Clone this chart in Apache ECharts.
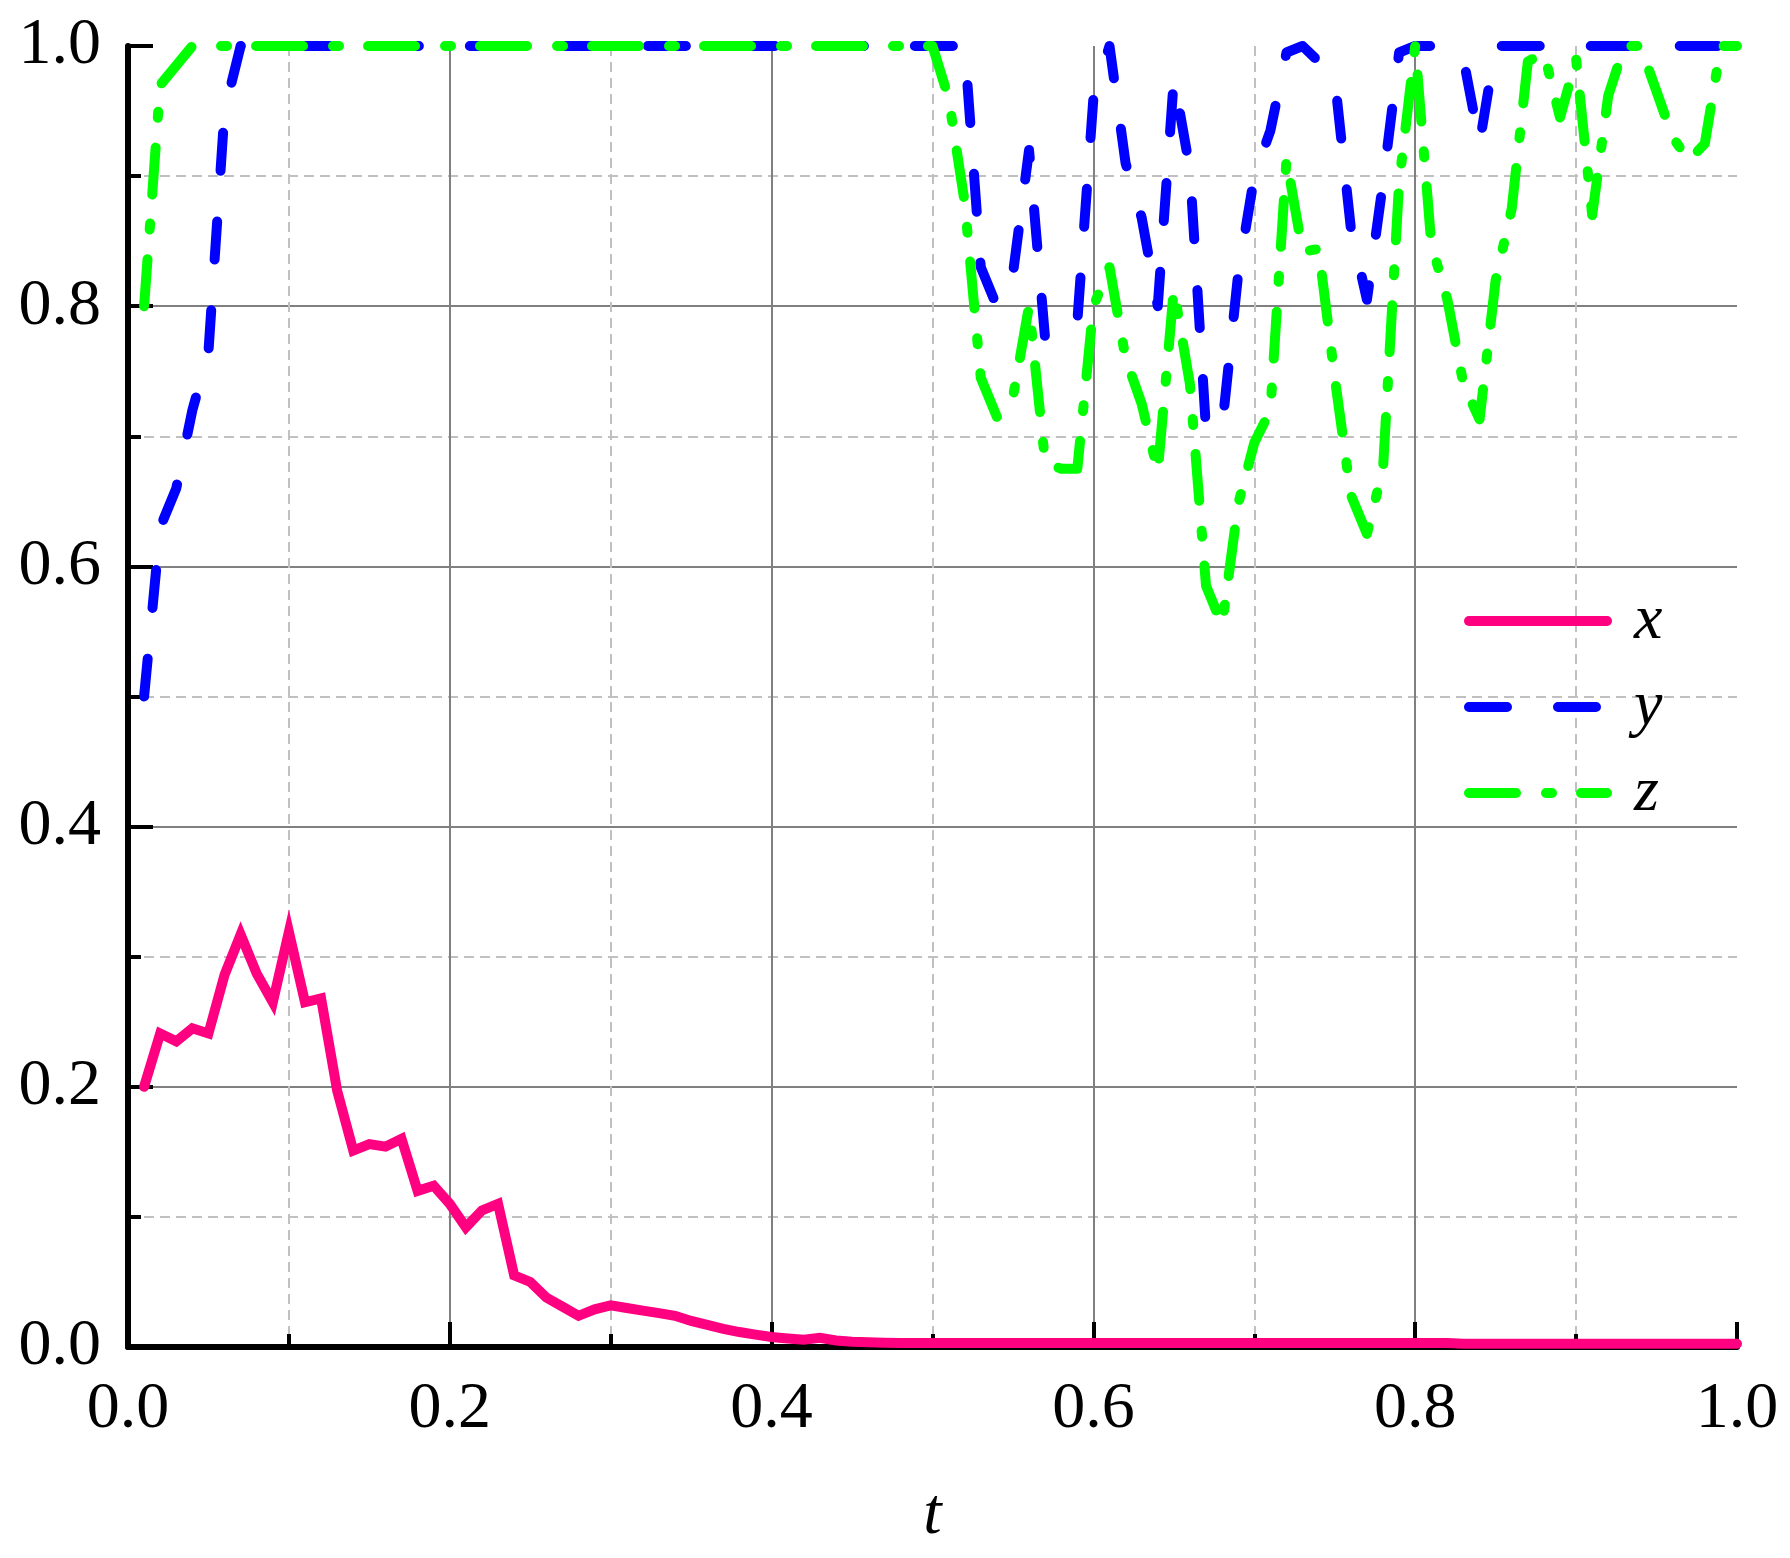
<!DOCTYPE html>
<html>
<head>
<meta charset="utf-8">
<script src="https://cdn.jsdelivr.net/npm/echarts@6/dist/echarts.min.js"></script>
<style>
html,body{margin:0;padding:0;background:#ffffff;}
#chart{width:1790px;height:1558px;}
</style>
</head>
<body>
<div id="chart"></div>
<script>
// time samples
const tValues = [
 0.01,0.02,0.03,0.04,0.05,0.06,0.07,0.08,0.09,0.10,
 0.11,0.12,0.13,0.14,0.15,0.16,0.17,0.18,0.19,0.20,
 0.21,0.22,0.23,0.24,0.25,0.26,0.27,0.28,0.29,0.30,
 0.31,0.32,0.33,0.34,0.35,0.36,0.37,0.38,0.39,0.40,
 0.41,0.42,0.43,0.44,0.45,0.46,0.47,0.48,0.49,0.50,
 0.51,0.52,0.53,0.54,0.55,0.56,0.57,0.58,0.59,0.60,
 0.61,0.62,0.63,0.64,0.65,0.66,0.67,0.68,0.69,0.70,
 0.71,0.72,0.73,0.74,0.75,0.76,0.77,0.78,0.79,0.80,
 0.81,0.82,0.83,0.84,0.85,0.86,0.87,0.88,0.89,0.90,
 0.91,0.92,0.93,0.94,0.95,0.96,0.97,0.98,0.99,1.00
];
// series x (solid pink)
const xValues = [
 0.200,0.241,0.235,0.245,0.241,0.286,0.317,0.287,0.265,0.319,
 0.265,0.268,0.197,0.151,0.156,0.154,0.160,0.120,0.124,0.110,
 0.092,0.105,0.110,0.055,0.050,0.038,0.031,0.024,0.029,0.032,
 0.030,0.028,0.026,0.024,0.020,0.017,0.014,0.0115,0.0095,0.0077,
 0.0066,0.0056,0.0070,0.0050,0.0040,0.0036,0.0033,0.0030,0.0030,0.0030,
 0.0030,0.0030,0.0030,0.0030,0.0030,0.0030,0.0030,0.0030,0.0030,0.0030,
 0.0030,0.0030,0.0030,0.0030,0.0030,0.0030,0.0030,0.0030,0.0030,0.0030,
 0.0030,0.0030,0.0030,0.0030,0.0030,0.0030,0.0030,0.0030,0.0030,0.0030,
 0.0030,0.0030,0.0025,0.0025,0.0025,0.0025,0.0025,0.0025,0.0025,0.0025,
 0.0025,0.0025,0.0025,0.0025,0.0025,0.0025,0.0025,0.0025,0.0025,0.0025
];
// series y (dashed blue)
const yValues = [
 0.500,0.630,0.660,0.720,0.765,0.950,1.000,1.000,1.000,1.000,
 1.000,1.000,1.000,1.000,1.000,1.000,1.000,1.000,1.000,1.000,
 1.000,1.000,1.000,1.000,1.000,1.000,1.000,1.000,1.000,1.000,
 1.000,1.000,1.000,1.000,1.000,1.000,1.000,1.000,1.000,1.000,
 1.000,1.000,1.000,1.000,1.000,1.000,1.000,1.000,1.000,1.000,
 1.000,1.000,0.830,0.800,0.825,0.920,0.775,0.790,0.788,0.960,
 1.000,0.910,0.868,0.800,0.975,0.905,0.705,0.707,0.825,0.900,
 0.935,0.995,1.000,0.988,0.975,0.860,0.805,0.895,0.995,1.000,
 1.000,1.000,0.990,0.925,1.000,1.000,1.000,1.000,1.000,1.000,
 1.000,1.000,1.000,1.000,1.000,1.000,1.000,1.000,1.000,1.000
];
// series z (dash-dot green)
const zValues = [
 0.800,0.970,0.985,1.000,1.000,1.000,1.000,1.000,1.000,1.000,
 1.000,1.000,1.000,1.000,1.000,1.000,1.000,1.000,1.000,1.000,
 1.000,1.000,1.000,1.000,1.000,1.000,1.000,1.000,1.000,1.000,
 1.000,1.000,1.000,1.000,1.000,1.000,1.000,1.000,1.000,1.000,
 1.000,1.000,1.000,1.000,1.000,1.000,1.000,1.000,1.000,1.000,
 0.960,0.880,0.745,0.715,0.730,0.800,0.680,0.675,0.675,0.800,
 0.830,0.760,0.725,0.673,0.813,0.740,0.585,0.555,0.648,0.695,
 0.720,0.913,0.842,0.844,0.745,0.655,0.625,0.675,0.895,1.000,
 0.848,0.805,0.740,0.713,0.820,0.875,0.988,0.995,0.945,0.990,
 0.870,0.962,1.000,1.000,0.965,0.930,0.912,0.925,1.000,1.000
];
const seriesNames = ['x','y','z'];
const axisMin = 0, axisMax = 1, axisStep = 0.2;

const FONT = "'Liberation Serif','Times New Roman',serif";
const LW = 10;
const pair = (vals) => tValues.map((t, i) => [t, vals[i]]);

const axisCommon = {
  type: 'value', min: axisMin, max: axisMax, interval: axisStep,
  axisLine: { show: true, lineStyle: { color: '#000', width: 6 } },
  axisTick: { show: true, inside: true, length: 25, lineStyle: { color: '#000', width: 4 } },
  minorTick: { show: true, splitNumber: 2, length: 13, lineStyle: { color: '#000', width: 4 } },
  splitLine: { show: true, showMinLine: false, showMaxLine: false, lineStyle: { color: '#808080', width: 2 } },
  minorSplitLine: { show: true, lineStyle: { color: '#c0c0c0', width: 2, type: [10, 6] } },
  axisLabel: { color: '#000', fontFamily: FONT, fontSize: 66, formatter: v => v.toFixed(1) }
};

const chart = echarts.init(document.getElementById('chart'), null, { renderer: 'canvas' });
chart.setOption({
  animation: false,
  backgroundColor: '#ffffff',
  grid: { left: 128, top: 46, width: 1609, height: 1301, containLabel: false },
  xAxis: Object.assign({}, axisCommon, {
    name: 't', nameLocation: 'middle', nameGap: 136,
    nameTextStyle: { color: '#000', fontFamily: FONT, fontStyle: 'italic', fontSize: 66 },
    axisLabel: Object.assign({}, axisCommon.axisLabel, { margin: 30 })
  }),
  yAxis: Object.assign({}, axisCommon, {
    axisLabel: Object.assign({}, axisCommon.axisLabel, { margin: 27 })
  }),
  legend: {
    data: seriesNames, orient: 'vertical', left: 1459, top: 584,
    itemWidth: 138, itemHeight: 30, itemGap: 22,
    itemStyle: { opacity: 0 },
    lineStyle: { width: LW, cap: 'round' },
    textStyle: { color: '#000', fontFamily: FONT, fontStyle: 'italic', fontSize: 64, lineHeight: 60, padding: [0, 0, 0, 22] }
  },
  series: [
    { name: seriesNames[0], type: 'line', data: pair(xValues), symbol: 'none', clip: false,
      lineStyle: { color: '#ff0080', width: LW, join: 'miter', cap: 'round' }, itemStyle: { color: '#ff0080' } },
    { name: seriesNames[1], type: 'line', data: pair(yValues), symbol: 'none', clip: false,
      lineStyle: { color: '#0000ff', width: LW, type: [38, 51], cap: 'round', join: 'round' }, itemStyle: { color: '#0000ff' } },
    { name: seriesNames[2], type: 'line', data: pair(zValues), symbol: 'none', clip: false,
      lineStyle: { color: '#00ff00', width: LW, type: [47, 30, 6, 29], cap: 'round', join: 'round' }, itemStyle: { color: '#00ff00' } }
  ]
});
</script>
</body>
</html>
